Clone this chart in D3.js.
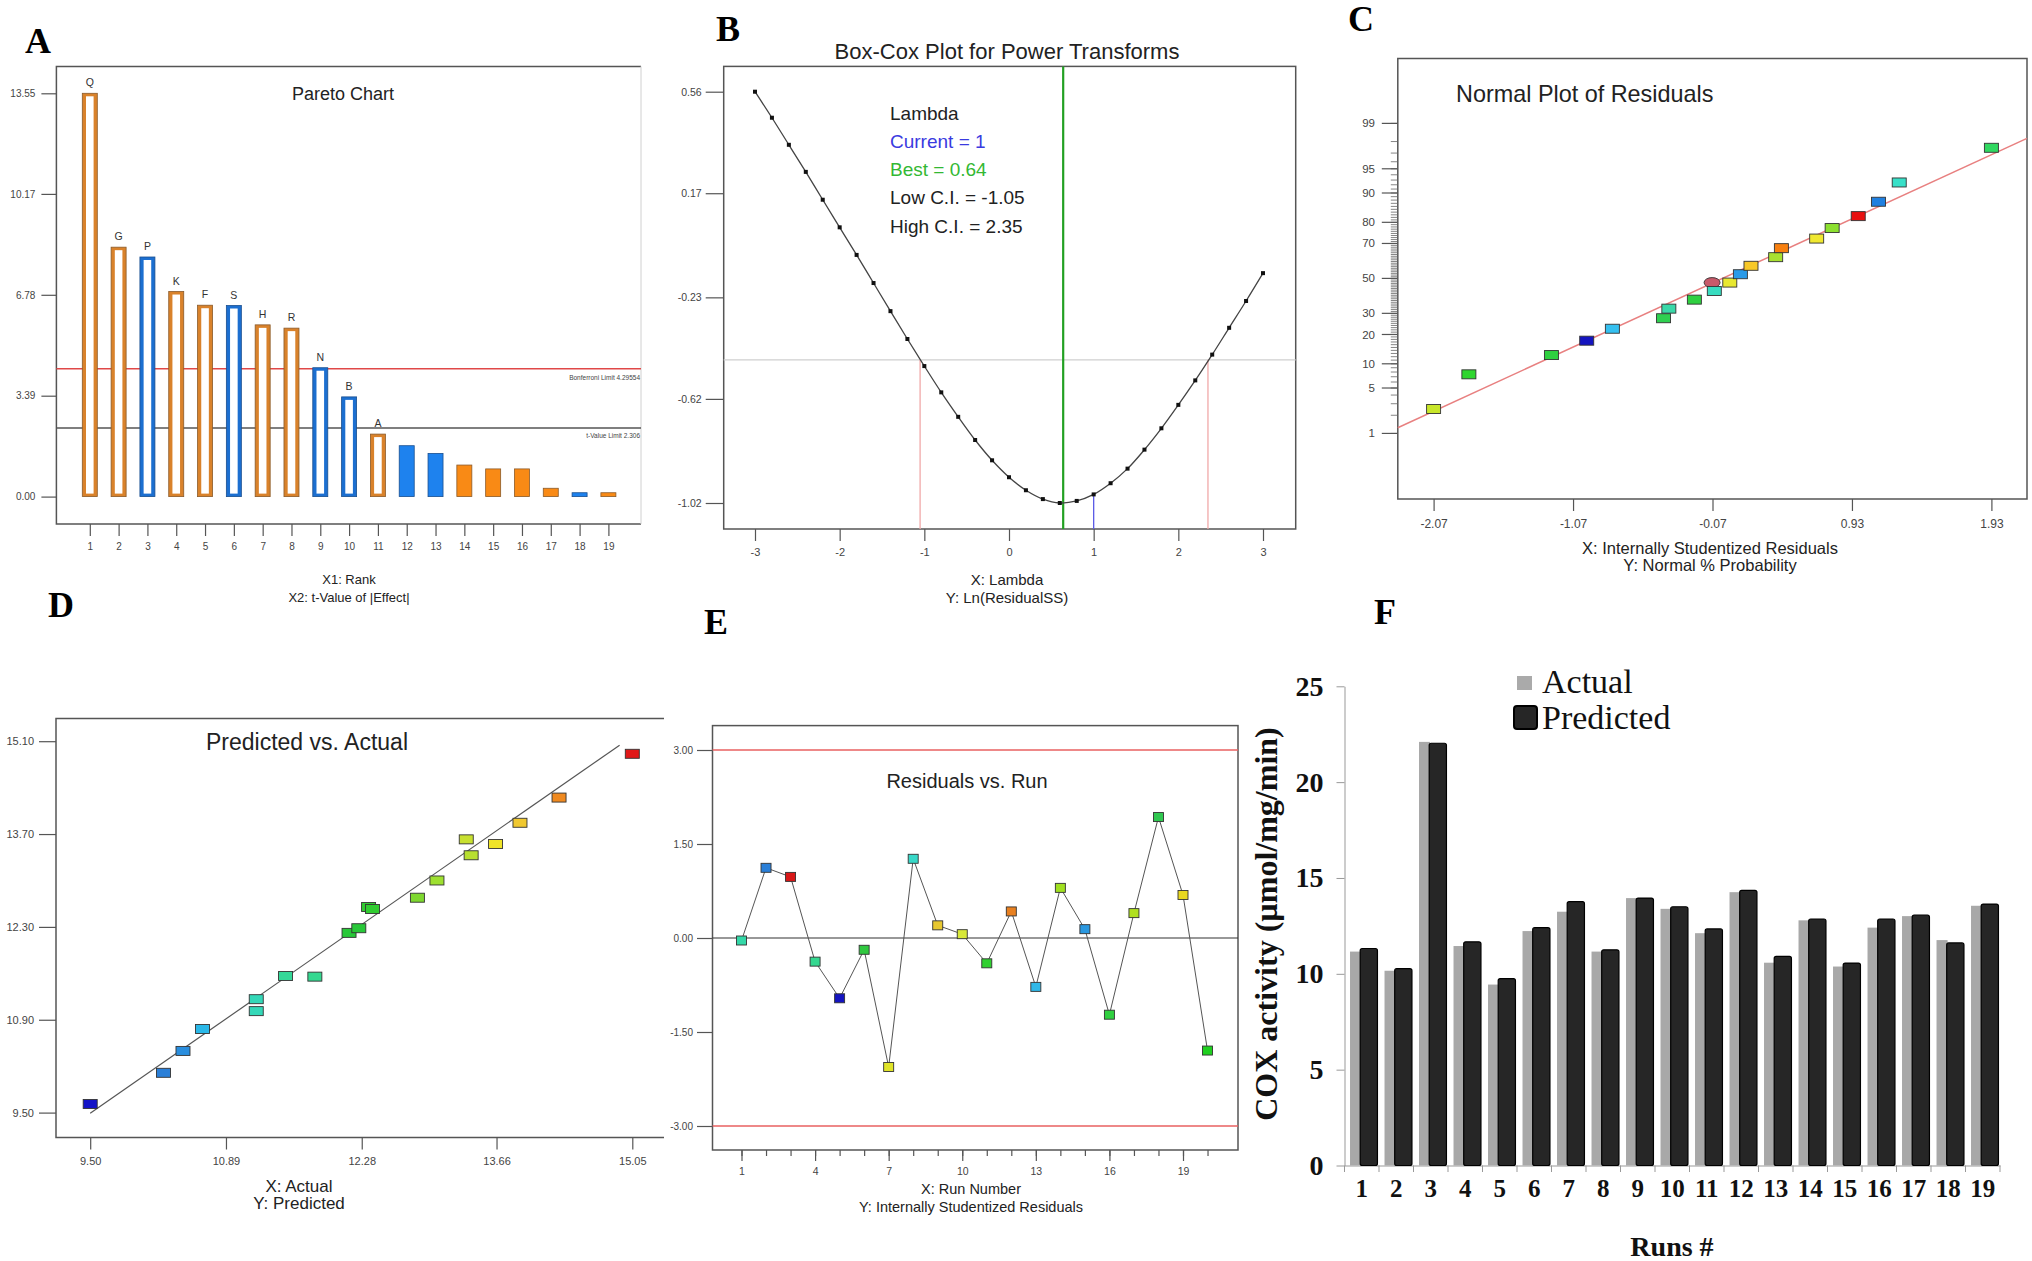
<!DOCTYPE html>
<html lang="en">
<head>
<meta charset="UTF-8">
<title>COX activity model diagnostics</title>
<style>
  body { margin: 0; background: #fff; }
  svg { display: block; }
</style>
</head>
<body>
<svg id="fig" width="2032" height="1261"></svg>
<script src="https://cdn.jsdelivr.net/npm/d3@7/dist/d3.min.js"></script>
<script>
// ---- A: Pareto chart ----
const paretoRank = [1, 2, 3, 4, 5, 6, 7, 8, 9, 10, 11, 12, 13, 14, 15, 16, 17, 18, 19];
const paretoTerm = ["Q", "G", "P", "K", "F", "S", "H", "R", "N", "B", "A", "", "", "", "", "", "", "", ""];
const paretoT = [13.55, 8.38, 8.05, 6.89, 6.43, 6.42, 5.77, 5.66, 4.33, 3.35, 2.10, 1.71, 1.45, 1.06, 0.93, 0.93, 0.28, 0.13, 0.13];
const paretoSign = ["+", "+", "-", "+", "+", "-", "+", "+", "-", "-", "+", "-", "-", "+", "+", "+", "+", "-", "+"];
const paretoInModel = [true, true, true, true, true, true, true, true, true, true, true, false, false, false, false, false, false, false, false];
const paretoYTicks = [0, 3.39, 6.78, 10.17, 13.55];
const bonferroniLimit = 4.29554;
const tValueLimit = 2.306;

// ---- B: Box-Cox ----
const boxLambda = [-3, -2.8, -2.6, -2.4, -2.2, -2, -1.8, -1.6, -1.4, -1.2, -1, -0.8, -0.6, -0.4, -0.2, 0,
  0.2, 0.4, 0.6, 0.8, 1, 1.2, 1.4, 1.6, 1.8, 2, 2.2, 2.4, 2.6, 2.8, 3];
const boxLnRSS = [0.56, 0.46, 0.356, 0.252, 0.145, 0.039, -0.067, -0.175, -0.283, -0.39, -0.494, -0.595, -0.689, -0.778, -0.856, -0.921,
  -0.971, -1.005, -1.02, -1.012, -0.987, -0.944, -0.888, -0.815, -0.733, -0.643, -0.549, -0.45, -0.347, -0.244, -0.137];
const boxYTicks = [0.56, 0.17, -0.23, -0.62, -1.02];
const boxXTicks = [-3, -2, -1, 0, 1, 2, 3];
const lambdaCurrent = 1, lambdaBest = 0.64, lambdaLow = -1.05, lambdaHigh = 2.35, ciLnRSS = -0.47;

// ---- C: normal plot of residuals ----
const normResid = [-2.07, -1.817, -1.225, -0.972, -0.788, -0.421, -0.383, -0.200, -0.057, 0.054,
  0.130, 0.206, 0.383, 0.424, 0.677, 0.788, 0.975, 1.120, 1.269, 1.93];
const normPct = [2.5, 7.5, 12.5, 17.5, 22.5, 27.5, 32.5, 37.5, 42.5, 47.5,
  52.5, 57.5, 62.5, 67.5, 72.5, 77.5, 82.5, 87.5, 92.5, 97.5];
const normColors = ["#c8e62a", "#2fd62f", "#2fd040", "#1414c0", "#35c0f0", "#2fd050", "#3ad8a8", "#2fd040", "#38dcc0", "#e8e830",
  "#2a9ae8", "#f8c828", "#a8e030", "#f88010", "#f0e830", "#8ce030", "#e81010", "#2080e0", "#38e0c8", "#30d860"];
const normSelected = { resid: -0.073, pct: 47.5 };
const normFitResid = [-2.327, 2.185];
const normFitPct = [1.25, 98.22];
const normYTicks = [1, 5, 10, 20, 30, 50, 70, 80, 90, 95, 99];
const normXTicks = [-2.07, -1.07, -0.07, 0.93, 1.93];

// ---- D: predicted vs actual ----
const pvaActual = [9.50, 10.25, 10.45, 10.65, 11.20, 11.20, 11.50, 11.80, 12.15, 12.25,
  12.35, 12.39, 12.85, 13.05, 13.35, 13.40, 13.65, 13.90, 14.30, 15.05];
const pvaPredicted = [9.63, 10.10, 10.43, 10.76, 11.03, 11.21, 11.56, 11.55, 12.21, 12.28,
  12.60, 12.57, 12.74, 13.00, 13.62, 13.38, 13.55, 13.87, 14.25, 14.91];
const pvaColors = ["#1414c8", "#2a7fd8", "#2a8ede", "#2ab8e8", "#34d8b8", "#34d8b8", "#34d898", "#34d890", "#28c838", "#28c838",
  "#30cc30", "#30cc30", "#7ed830", "#9ee030", "#c8e030", "#b8e030", "#f0e428", "#f0c830", "#f08a20", "#e01818"];
const pvaFitX = [9.50, 14.92];
const pvaFitY = [9.49, 15.04];
const pvaYTicks = [9.50, 10.90, 12.30, 13.70, 15.10];
const pvaXTicks = [9.50, 10.89, 12.28, 13.66, 15.05];

// ---- E: residuals vs run ----
const runNumber = [1, 2, 3, 4, 5, 6, 7, 8, 9, 10, 11, 12, 13, 14, 15, 16, 17, 18, 19, 20];
const runResid = [-0.04, 1.12, 0.975, -0.377, -0.962, -0.188, -2.058, 1.264, 0.202, 0.061,
  -0.404, 0.424, -0.780, 0.800, 0.141, -1.224, 0.397, 1.930, 0.686, -1.796];
const runColors = ["#34d8a8", "#2a7fd8", "#d81818", "#34d890", "#1414c0", "#30c840", "#e0e428", "#38d8c8", "#e8c830", "#d8e838",
  "#30d030", "#e88020", "#30b8e8", "#a0e020", "#2a98e0", "#30d040", "#b0e020", "#30c850", "#e8d820", "#20d020"];
const runYTicks = [3, 1.5, 0, -1.5, -3];
const runXTicks = [1, 4, 7, 10, 13, 16, 19];

// ---- F: COX activity ----
const coxRuns = ["1", "2", "3", "4", "5", "6", "7", "8", "9", "10", "11", "12", "13", "14", "15", "16", "17", "18", "19"];
const coxActual = [11.16, 10.16, 22.10, 11.45, 9.44, 12.23, 13.24, 11.16, 13.95, 13.39, 12.12, 14.26, 10.58, 12.79, 10.38, 12.41, 13.01, 11.76, 13.55];
const coxPredicted = [11.32, 10.27, 22.03, 11.67, 9.75, 12.41, 13.77, 11.25, 13.95, 13.50, 12.34, 14.35, 10.91, 12.86, 10.56, 12.86, 13.06, 11.61, 13.64];
const coxYTicks = [0, 5, 10, 15, 20, 25];

const SANS = "'Liberation Sans', Arial, Helvetica, sans-serif";
const SERIF = "'Liberation Serif', 'Times New Roman', Times, serif";
const svg = d3.select("#fig");

// inverse normal CDF (Acklam)
function probit(p) {
  const a = [-3.969683028665376e+01, 2.209460984245205e+02, -2.759285104469687e+02, 1.383577518672690e+02, -3.066479806614716e+01, 2.506628277459239e+00];
  const b = [-5.447609879822406e+01, 1.615858368580409e+02, -1.556989798598866e+02, 6.680131188771972e+01, -1.328068155288572e+01];
  const c = [-7.784894002430293e-03, -3.223964580411365e-01, -2.400758277161838e+00, -2.549732539343734e+00, 4.374664141464968e+00, 2.938163982698783e+00];
  const d = [7.784695709041462e-03, 3.224671290700398e-01, 2.445134137142996e+00, 3.754408661907416e+00];
  const pl = 0.02425;
  let q, r;
  if (p < pl) {
    q = Math.sqrt(-2 * Math.log(p));
    return (((((c[0]*q+c[1])*q+c[2])*q+c[3])*q+c[4])*q+c[5]) / ((((d[0]*q+d[1])*q+d[2])*q+d[3])*q+1);
  }
  if (p > 1 - pl) {
    q = Math.sqrt(-2 * Math.log(1 - p));
    return -(((((c[0]*q+c[1])*q+c[2])*q+c[3])*q+c[4])*q+c[5]) / ((((d[0]*q+d[1])*q+d[2])*q+d[3])*q+1);
  }
  q = p - 0.5; r = q * q;
  return (((((a[0]*r+a[1])*r+a[2])*r+a[3])*r+a[4])*r+a[5])*q / (((((b[0]*r+b[1])*r+b[2])*r+b[3])*r+b[4])*r+1);
}

function styleAxis(g, size) {
  g.select(".domain").remove();
  g.selectAll(".tick line").attr("stroke", "#555").attr("stroke-width", 1.2);
  g.selectAll(".tick text").attr("fill", "#444").attr("font-size", size).attr("font-family", SANS);
}

function label(x, y, txt, size, opts = {}) {
  return svg.append("text")
    .attr("x", x).attr("y", y)
    .attr("font-family", opts.family || SANS)
    .attr("font-size", size)
    .attr("font-weight", opts.weight || "normal")
    .attr("text-anchor", opts.anchor || "middle")
    .attr("fill", opts.fill || "#222")
    .text(txt);
}

function frame(l, t, r, b) {
  svg.append("rect").attr("x", l).attr("y", t).attr("width", r - l).attr("height", b - t)
    .attr("fill", "none").attr("stroke", "#555").attr("stroke-width", 1.5);
}

function markers(sel, data, w, h) {
  sel.selectAll("rect").data(data).join("rect")
    .attr("x", d => d.x - w / 2).attr("y", d => d.y - h / 2)
    .attr("width", w).attr("height", h)
    .attr("fill", d => d.c).attr("stroke", "#333").attr("stroke-width", 0.9);
}

// panel letters
[["A", 25, 53], ["B", 716, 41], ["C", 1348, 31], ["D", 48, 617], ["E", 704, 634], ["F", 1374, 624]]
  .forEach(([t, x, y]) => label(x, y, t, 36, { family: SERIF, weight: "bold", anchor: "start", fill: "#000" }));

// =============== A ===============
{
  const L = 56.4, T = 66.4, R = 641, B = 524;
  const x = d3.scaleLinear().domain([1, 19]).range([89.8, 608.4]);
  const y = d3.scaleLinear().domain([0, 13.55]).range([496.6, 93.3]);
  svg.append("path").attr("d", `M${R},${T}H${L}V${B}H${R}`).attr("fill", "none").attr("stroke", "#555").attr("stroke-width", 1.5);
  svg.append("line").attr("x1", R).attr("x2", R).attr("y1", T).attr("y2", B).attr("stroke", "#d0d0d0");

  svg.append("g").attr("transform", `translate(${L},0)`)
    .call(d3.axisLeft(y).tickValues(paretoYTicks).tickSize(15).tickPadding(6).tickFormat(d => d.toFixed(2)))
    .call(g => styleAxis(g, 10));
  svg.append("g").attr("transform", `translate(0,${B})`)
    .call(d3.axisBottom(x).tickValues(paretoRank).tickSize(12).tickPadding(7).tickFormat(d3.format("d")))
    .call(g => styleAxis(g, 10));

  const yB = y(bonferroniLimit), yT = y(tValueLimit);
  svg.append("line").attr("x1", L).attr("x2", R).attr("y1", yB).attr("y2", yB).attr("stroke", "#e04848").attr("stroke-width", 1.3);
  svg.append("line").attr("x1", L).attr("x2", R).attr("y1", yT).attr("y2", yT).attr("stroke", "#555").attr("stroke-width", 1.6);
  label(R - 1, yB + 11, "Bonferroni Limit " + bonferroniLimit, 6.5, { anchor: "end", fill: "#444" });
  label(R - 1, yT + 10, "t-Value Limit " + tValueLimit, 6.5, { anchor: "end", fill: "#444" });

  const bars = paretoRank.map((r, i) => ({ r, v: paretoT[i], s: paretoSign[i], m: paretoInModel[i], t: paretoTerm[i] }));
  const bw = 15;
  const g = svg.append("g");
  g.selectAll("rect.outer").data(bars).join("rect").attr("class", "outer")
    .attr("x", d => x(d.r) - bw / 2).attr("y", d => y(d.v))
    .attr("width", bw).attr("height", d => y(0) - y(d.v))
    .attr("fill", d => d.m ? (d.s === "+" ? "#d9822b" : "#1c6fd0") : (d.s === "+" ? "#f98a15" : "#1e82ee"))
    .attr("stroke", d => d.s === "+" ? "#8a5a2a" : "#1a4f8f").attr("stroke-width", 0.8);
  g.selectAll("rect.inner").data(bars.filter(d => d.m)).join("rect").attr("class", "inner")
    .attr("x", d => x(d.r) - 3.8).attr("y", d => y(d.v) + 3)
    .attr("width", 7.6).attr("height", d => Math.max(0, y(0) - y(d.v) - 6))
    .attr("fill", "#fff");
  g.selectAll("text").data(bars.filter(d => d.t)).join("text")
    .attr("x", d => x(d.r)).attr("y", d => y(d.v) - 7)
    .attr("text-anchor", "middle").attr("font-family", SANS).attr("font-size", 10.5).attr("fill", "#333")
    .text(d => d.t);

  label(343, 100, "Pareto Chart", 18);
  label(349, 584, "X1: Rank", 13);
  label(349, 602, "X2: t-Value of |Effect|", 13);
}

// =============== B ===============
{
  const L = 723.7, T = 66.4, R = 1295.7, B = 529;
  const x = d3.scaleLinear().domain([-3, 3]).range([755, 1263]);
  const y = d3.scaleLinear().domain([-1.02, 0.56]).range([503, 91.7]);
  frame(L, T, R, B);
  svg.append("g").attr("transform", `translate(${L},0)`)
    .call(d3.axisLeft(y).tickValues(boxYTicks).tickSize(18).tickPadding(4).tickFormat(d => d.toFixed(2)))
    .call(g => styleAxis(g, 10.5));
  svg.append("g").attr("transform", `translate(0,${B})`)
    .call(d3.axisBottom(x).tickValues(boxXTicks).tickSize(12).tickPadding(7).tickFormat(d => String(d)))
    .call(g => styleAxis(g, 11));

  const yCI = y(ciLnRSS);
  svg.append("line").attr("x1", L).attr("x2", R).attr("y1", yCI).attr("y2", yCI).attr("stroke", "#cfcfcf").attr("stroke-width", 1.3);
  [lambdaLow, lambdaHigh].forEach(v =>
    svg.append("line").attr("x1", x(v)).attr("x2", x(v)).attr("y1", yCI).attr("y2", B).attr("stroke", "#f0a8a8").attr("stroke-width", 1.3));
  svg.append("line").attr("x1", x(lambdaBest)).attr("x2", x(lambdaBest)).attr("y1", T).attr("y2", B).attr("stroke", "#22a022").attr("stroke-width", 2.2);
  const curIdx = boxLambda.indexOf(lambdaCurrent);
  svg.append("line").attr("x1", x(lambdaCurrent)).attr("x2", x(lambdaCurrent)).attr("y1", y(boxLnRSS[curIdx])).attr("y2", B)
    .attr("stroke", "#5a5ae6").attr("stroke-width", 1.3);

  const pts = boxLambda.map((l, i) => [x(l), y(boxLnRSS[i])]);
  svg.append("path").attr("d", d3.line().curve(d3.curveCatmullRom)(pts))
    .attr("fill", "none").attr("stroke", "#444").attr("stroke-width", 1.3);
  svg.append("g").selectAll("rect").data(pts).join("rect")
    .attr("x", d => d[0] - 2).attr("y", d => d[1] - 2).attr("width", 4).attr("height", 4).attr("fill", "#111");

  label(1007, 58.5, "Box-Cox Plot for Power Transforms", 22);
  label(890, 120, "Lambda", 19, { anchor: "start" });
  label(890, 148, "Current = " + lambdaCurrent, 19, { anchor: "start", fill: "#3a3ae0" });
  label(890, 176, "Best = " + lambdaBest, 19, { anchor: "start", fill: "#33b833" });
  label(890, 204, "Low C.I. = " + lambdaLow, 19, { anchor: "start" });
  label(890, 232.5, "High C.I. = " + lambdaHigh, 19, { anchor: "start" });
  label(1007, 584.5, "X: Lambda", 15);
  label(1007, 602.5, "Y: Ln(ResidualSS)", 15);
}

// =============== C ===============
{
  const L = 1397.8, T = 58.5, R = 2027, B = 499;
  const x = d3.scaleLinear().domain([-2.07, 1.93]).range([1433.6, 1991.4]);
  const z = d3.scaleLinear().domain([-2.326, 2.326]).range([433.4, 123.4]);
  const y = p => z(probit(p / 100));
  frame(L, T, R, B);
  svg.append("g").selectAll("line").data(d3.range(1, 100)).join("line")
    .attr("x1", L - 7).attr("x2", L).attr("y1", y).attr("y2", y).attr("stroke", "#666").attr("stroke-width", 0.8);
  const yg = svg.append("g");
  yg.selectAll("line").data(normYTicks).join("line")
    .attr("x1", L - 16).attr("x2", L).attr("y1", y).attr("y2", y).attr("stroke", "#555").attr("stroke-width", 1.2);
  yg.selectAll("text").data(normYTicks).join("text")
    .attr("x", 1375).attr("y", y).attr("dy", "0.35em").attr("text-anchor", "end")
    .attr("font-family", SANS).attr("font-size", 11.5).attr("fill", "#444").text(d => d);
  svg.append("g").attr("transform", `translate(0,${B})`)
    .call(d3.axisBottom(x).tickValues(normXTicks).tickSize(12).tickPadding(8).tickFormat(d => d.toFixed(2)))
    .call(g => styleAxis(g, 12));

  svg.append("line")
    .attr("x1", x(normFitResid[0])).attr("y1", y(normFitPct[0]))
    .attr("x2", x(normFitResid[1])).attr("y2", y(normFitPct[1]))
    .attr("stroke", "#e88080").attr("stroke-width", 1.5);
  svg.append("ellipse").attr("cx", x(normSelected.resid)).attr("cy", y(normSelected.pct))
    .attr("rx", 8).attr("ry", 5).attr("fill", "#c85a6a").attr("stroke", "#333").attr("stroke-width", 0.9);
  markers(svg.append("g"), normResid.map((r, i) => ({ x: x(r), y: y(normPct[i]), c: normColors[i] })), 14, 9);

  label(1456, 101.5, "Normal Plot of Residuals", 23.4, { anchor: "start" });
  label(1710, 553.5, "X: Internally Studentized Residuals", 16.5);
  label(1710, 571, "Y: Normal % Probability", 16.5);
}

// =============== D ===============
{
  const L = 56, T = 718.5, R = 664, B = 1137.5;
  const x = d3.scaleLinear().domain([9.5, 15.05]).range([90.2, 632.3]);
  const y = d3.scaleLinear().domain([9.5, 15.1]).range([1112.6, 741.2]);
  svg.append("path").attr("d", `M${R},${T}H${L}V${B}H${R}`).attr("fill", "none").attr("stroke", "#555").attr("stroke-width", 1.5);
  svg.append("g").attr("transform", `translate(${L},0)`)
    .call(d3.axisLeft(y).tickValues(pvaYTicks).tickSize(17).tickPadding(5).tickFormat(d => d.toFixed(2)))
    .call(g => styleAxis(g, 11));
  svg.append("g").attr("transform", `translate(0,${B})`)
    .call(d3.axisBottom(x).tickValues(pvaXTicks).tickSize(12).tickPadding(8).tickFormat(d => d.toFixed(2)))
    .call(g => styleAxis(g, 11));
  svg.append("line")
    .attr("x1", x(pvaFitX[0])).attr("y1", y(pvaFitY[0]))
    .attr("x2", x(pvaFitX[1])).attr("y2", y(pvaFitY[1]))
    .attr("stroke", "#555").attr("stroke-width", 1.2);
  markers(svg.append("g"), pvaActual.map((a, i) => ({ x: x(a), y: y(pvaPredicted[i]), c: pvaColors[i] })), 14, 9);

  label(307, 750, "Predicted vs. Actual", 23);
  label(299, 1192, "X: Actual", 17);
  label(299, 1209, "Y: Predicted", 17);
}

// =============== E ===============
{
  const L = 712.5, T = 725.6, R = 1238, B = 1150;
  const x = d3.scaleLinear().domain([1, 19]).range([741.5, 1183]);
  const y = d3.scaleLinear().domain([-3, 3]).range([1126, 750]);
  frame(L, T, R, B);
  [3, -3].forEach(v => svg.append("line").attr("x1", L).attr("x2", R).attr("y1", y(v)).attr("y2", y(v))
    .attr("stroke", "#e86060").attr("stroke-width", 1.5));
  svg.append("line").attr("x1", L).attr("x2", R).attr("y1", y(0)).attr("y2", y(0)).attr("stroke", "#333").attr("stroke-width", 1.1);
  svg.append("g").attr("transform", `translate(${L},0)`)
    .call(d3.axisLeft(y).tickValues(runYTicks).tickSize(15.5).tickPadding(4).tickFormat(d => d.toFixed(2)))
    .call(g => styleAxis(g, 10));
  svg.append("g").attr("transform", `translate(0,${B})`)
    .call(d3.axisBottom(x).tickValues(runNumber).tickSize(6).tickFormat(""))
    .call(g => styleAxis(g, 10));
  svg.append("g").attr("transform", `translate(0,${B})`)
    .call(d3.axisBottom(x).tickValues(runXTicks).tickSize(11).tickPadding(7).tickFormat(d3.format("d")))
    .call(g => styleAxis(g, 10.5));

  const pts = runNumber.map((r, i) => ({ x: x(r), y: y(runResid[i]), c: runColors[i] }));
  svg.append("path").attr("d", d3.line().x(d => d.x).y(d => d.y)(pts))
    .attr("fill", "none").attr("stroke", "#555").attr("stroke-width", 1);
  markers(svg.append("g"), pts, 10, 9);

  label(967, 788, "Residuals vs. Run", 20);
  label(971, 1194, "X: Run Number", 14.5);
  label(971, 1212, "Y: Internally Studentized Residuals", 14.5);
}

// =============== F ===============
{
  const x = d3.scaleBand().domain(coxRuns).range([1344.5, 2000]);
  const y = d3.scaleLinear().domain([0, 25]).range([1165.5, 686.3]);
  const bw = x.bandwidth();

  svg.append("g").attr("transform", "translate(1344.5,0)")
    .call(d3.axisLeft(y).tickValues(coxYTicks).tickSize(8).tickSizeOuter(0).tickPadding(13))
    .call(g => {
      g.select(".domain").attr("stroke", "#999");
      g.selectAll(".tick line").attr("stroke", "#999");
      g.selectAll(".tick text").attr("font-family", SERIF).attr("font-weight", "bold").attr("font-size", 28).attr("fill", "#111");
    });
  svg.append("g").attr("transform", "translate(0,1165.5)")
    .call(d3.axisBottom(x).tickSize(0).tickSizeOuter(0).tickPadding(14))
    .call(g => {
      g.select(".domain").attr("stroke", "#999");
      g.selectAll(".tick text").attr("font-family", SERIF).attr("font-weight", "bold").attr("font-size", 25).attr("fill", "#111");
    });
  svg.append("g").selectAll("line").data(coxRuns.map(r => x(r)).concat([x.range()[1]])).join("line")
    .attr("x1", d => d).attr("x2", d => d).attr("y1", 1165.5).attr("y2", 1172).attr("stroke", "#999");

  svg.append("g").selectAll("rect").data(coxRuns).join("rect")
    .attr("x", d => x(d) + bw * 0.16).attr("width", bw * 0.32)
    .attr("y", (d, i) => y(coxActual[i])).attr("height", (d, i) => y(0) - y(coxActual[i]))
    .attr("fill", "#a8a8a8");
  svg.append("g").selectAll("rect").data(coxRuns).join("rect")
    .attr("x", d => x(d) + bw * 0.455).attr("width", bw * 0.5)
    .attr("y", (d, i) => y(coxPredicted[i])).attr("height", (d, i) => y(0) - y(coxPredicted[i]))
    .attr("rx", 2).attr("fill", "#262626").attr("stroke", "#000").attr("stroke-width", 1.2);

  svg.append("rect").attr("x", 1517).attr("y", 676).attr("width", 15).attr("height", 14).attr("fill", "#aaa");
  svg.append("rect").attr("x", 1514).attr("y", 706).attr("width", 23).attr("height", 23).attr("rx", 3)
    .attr("fill", "#262626").attr("stroke", "#000").attr("stroke-width", 2);
  label(1542, 693, "Actual", 34, { family: SERIF, anchor: "start", fill: "#111" });
  label(1542, 729, "Predicted", 34, { family: SERIF, anchor: "start", fill: "#111" });

  svg.append("text").attr("transform", "translate(1277,924) rotate(-90)")
    .attr("text-anchor", "middle").attr("font-family", SERIF).attr("font-weight", "bold").attr("font-size", 32).attr("fill", "#111")
    .text("COX  activity (µmol/mg/min)");
  label(1672, 1256, "Runs #", 28, { family: SERIF, weight: "bold", fill: "#111" });
}
</script>
</body>
</html>
